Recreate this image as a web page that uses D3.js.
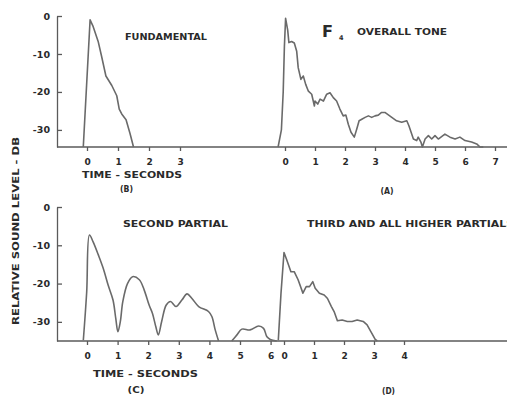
<!DOCTYPE html>
<html><head><meta charset="utf-8">
<script src="https://cdn.jsdelivr.net/npm/d3@7"></script>
<style>
html,body{margin:0;padding:0;background:#fff;}
svg{display:block;}
text{font-family:"DejaVu Sans",sans-serif;font-weight:bold;fill:#2a2a2a;}
</style></head>
<body>
<svg id="c" width="507" height="395"></svg>
<script>
// ---- data ----
const yTicks = [0, -10, -20, -30];
const yTickLabels = ["0", "-10", "-20", "-30"];
const ticksB = [0, 1, 2, 3];
const ticksA = [0, 1, 2, 3, 4, 5, 6, 7];
const ticksC = [0, 1, 2, 3, 4, 5, 6];
const ticksD = [0, 1, 2, 3, 4];

// (B) fundamental
const fundTime = [-0.12, 0.1, 0.2, 0.36, 0.47, 0.61, 0.8, 0.96, 1.04, 1.12, 1.26, 1.39, 1.5];
const fundDb   = [-34.5, -1, -2.8, -6.7, -10.6, -15.8, -18.3, -21, -24.5, -25.8, -27.3, -31, -34.5];

// (A) overall tone
const overallTime = [-0.23, -0.12, -0.06, -0.02, 0.02, 0.09, 0.13, 0.22, 0.31, 0.39, 0.44, 0.53, 0.61, 0.69, 0.78, 0.89, 0.98, 1.0, 1.09, 1.17, 1.28, 1.39, 1.5, 1.61, 1.72, 1.83, 1.94, 2.03, 2.11, 2.2, 2.31, 2.39, 2.47, 2.56, 2.67, 2.78, 2.89, 3.0, 3.11, 3.22, 3.33, 3.56, 3.72, 3.89, 4.06, 4.13, 4.28, 4.39, 4.44, 4.53, 4.58, 4.67, 4.78, 4.89, 5.0, 5.11, 5.33, 5.5, 5.67, 5.83, 6.0, 6.22, 6.39, 6.5, 6.61];
const overallDb   = [-34.5, -30, -20, -8, -0.6, -3.7, -7, -6.7, -7.1, -9.3, -13.6, -16.7, -15.8, -18, -19.8, -20.6, -23.7, -22.4, -23.2, -21.9, -22.4, -20.6, -20.2, -21.5, -22.4, -24.5, -26.3, -26.1, -28.5, -30.6, -31.9, -29.8, -27.6, -27.2, -26.7, -26.3, -26.7, -26.3, -26.1, -25.4, -25.4, -26.7, -27.6, -28, -27.6, -28.9, -32.4, -32.8, -31.9, -33.2, -34.5, -32.4, -31.5, -32.4, -31.5, -32.4, -31.1, -31.9, -32.4, -31.9, -32.8, -33.2, -33.7, -34.5, -34.5];

// (C) second partial (null = gap)
const secondTime = [-0.12, -0.01, 0.08, 0.2, 0.37, 0.53, 0.69, 0.85, 0.94, 1.01, 1.09, 1.17, 1.33, 1.49, 1.71, 1.87, 2.03, 2.14, 2.25, 2.33, 2.44, 2.59, 2.73, 2.91, 3.1, 3.27, 3.43, 3.65, 3.97, 4.08, 4.19, 4.3, 4.5, 4.73, 4.9, 5.06, 5.33, 5.61, 5.77, 5.88, 5.99, 6.2];
const secondDb   = [-34.8, -22.2, -7.3, -9.1, -12.5, -16, -20.4, -24.3, -29.1, -32.6, -29.9, -24.7, -19.9, -18.2, -19, -21.7, -25.6, -27.8, -31.3, -33.4, -29.9, -25.6, -24.7, -26, -24.3, -22.7, -23.9, -26, -27.3, -28.6, -32.1, -35, null, -35, -33.4, -31.9, -32.1, -31.1, -31.7, -33.9, -34.6, -35];

// (D) third and all higher partials
const thirdTime = [-0.19, -0.1, 0.0, 0.09, 0.23, 0.34, 0.47, 0.63, 0.74, 0.85, 0.96, 1.04, 1.18, 1.34, 1.45, 1.58, 1.67, 1.78, 1.94, 2.11, 2.27, 2.44, 2.64, 2.77, 2.9, 3.04, 3.11];
const thirdDb   = [-34.8, -22.5, -11.9, -13.8, -16.9, -16.9, -19, -22.5, -20.8, -20.8, -19.5, -21.2, -22.5, -23, -23.9, -26, -27.3, -29.7, -29.5, -29.9, -29.9, -29.5, -29.9, -30.8, -32.6, -34.6, -35];

// ---- drawing ----
const svg = d3.select("#c");
const lineCol = "#6a6a6a";
const axisCol = "#5a5a5a";

const yTop = d3.scaleLinear().domain([0, -34.5]).range([16, 147]);
const yBot = d3.scaleLinear().domain([0, -35]).range([207, 341]);
const xB = d3.scaleLinear().domain([0, 3]).range([87, 180]);
const xA = d3.scaleLinear().domain([0, 7]).range([285, 495]);
const xC = d3.scaleLinear().domain([0, 6]).range([87, 270.6]);
const xD = d3.scaleLinear().domain([0, 4]).range([284, 404]);

function yAxis(y) {
  const g = svg.append("g").attr("transform", "translate(57,0)")
    .call(d3.axisLeft(y).tickValues(yTicks).tickFormat((d, i) => yTickLabels[i])
      .tickSizeInner(-5).tickSizeOuter(0).tickPadding(7));
  g.selectAll("path,line").attr("stroke", axisCol).attr("stroke-width", 1.3);
  g.selectAll("text").style("font-size", "9.5px").style("font-family", "DejaVu Sans").style("font-weight", "bold").attr("fill", "#2a2a2a");
}
function baseLine(yv) {
  svg.append("line").attr("x1", 57).attr("x2", 507).attr("y1", yv).attr("y2", yv)
    .attr("stroke", axisCol).attr("stroke-width", 1.4);
}
function xAxis(x, ticks, yv, pad) {
  const g = svg.append("g").attr("transform", `translate(0,${yv})`)
    .call(d3.axisBottom(x).tickValues(ticks).tickFormat(d3.format("d")).tickSizeInner(4).tickSizeOuter(0).tickPadding(pad));
  g.select(".domain").remove();
  g.selectAll("line").attr("stroke", axisCol).attr("stroke-width", 1.3);
  g.selectAll("text").style("font-size", "9px").style("font-family", "DejaVu Sans").style("font-weight", "bold").attr("fill", "#2a2a2a");
}
function curve(x, y, ts, ds, cf) {
  const pts = ts.map((t, i) => [t, ds[i]]);
  svg.append("path").datum(pts)
    .attr("d", d3.line().defined(d => d[1] !== null).x(d => x(d[0])).y(d => y(d[1])).curve(cf))
    .attr("fill", "none").attr("stroke", lineCol).attr("stroke-width", 1.6).attr("stroke-linejoin", "round");
}
function label(txt, x, y, size, len, anchor) {
  const t = svg.append("text").attr("x", x).attr("y", y).style("font-size", size + "px").text(txt);
  if (len) t.attr("textLength", len).attr("lengthAdjust", "spacingAndGlyphs");
  if (anchor) t.attr("text-anchor", anchor);
  return t;
}

// axes
yAxis(yTop); yAxis(yBot);
baseLine(147); baseLine(341);
xAxis(xB, ticksB, 147, 8);
xAxis(xA, ticksA, 147, 8);
xAxis(xC, ticksC, 341, 7.5);
xAxis(xD, ticksD, 341, 7.5);

// curves
curve(xB, yTop, fundTime, fundDb, d3.curveLinear);
curve(xA, yTop, overallTime, overallDb, d3.curveLinear);
curve(xC, yBot, secondTime, secondDb, d3.curveCatmullRom.alpha(0.5));
curve(xD, yBot, thirdTime, thirdDb, d3.curveLinear);

// texts
label("FUNDAMENTAL", 125, 39.5, 8.5, 82);
label("F", 322, 37, 16, 11);
label("4", 339, 39.5, 6.5);
label("OVERALL TONE", 357, 34.5, 8.5, 90);
label("SECOND PARTIAL", 123, 226.5, 8.5, 105);
label("THIRD AND ALL HIGHER PARTIALS", 307, 226.5, 8.5, 207);
label("TIME - SECONDS", 82, 178, 8.5, 100);
label("(B)", 126.5, 192, 8.5, 13, "middle");
label("(A)", 387, 194, 8.5, 13, "middle");
label("TIME - SECONDS", 93, 376.5, 8.5, 105);
label("(C)", 136, 393, 8.5, 17, "middle");
label("(D)", 388.5, 394, 8.5, 13, "middle");
svg.append("text").attr("transform", "translate(18.5,231) rotate(-90)")
  .attr("text-anchor", "middle").style("font-size", "8px")
  .attr("textLength", 188).attr("lengthAdjust", "spacingAndGlyphs")
  .text("RELATIVE SOUND LEVEL - DB");
</script>
</body></html>
